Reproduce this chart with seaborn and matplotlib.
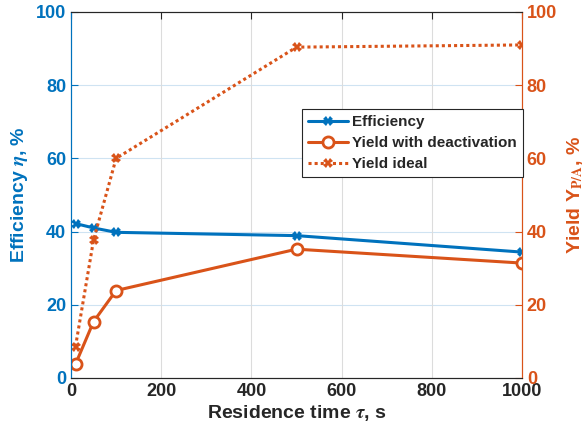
import numpy as np
import pandas as pd
import matplotlib
matplotlib.use("Agg")
import matplotlib.pyplot as plt
import seaborn as sns

# Residence time (s) and measured series (%)
tau = [10, 50, 100, 500, 1000]
efficiency = [42.2, 41.0, 39.8, 38.9, 34.4]
yield_deact = [3.8, 15.4, 23.9, 35.2, 31.4]
yield_ideal = [8.6, 37.7, 60.0, 90.4, 91.0]

x_ticks = [0, 200, 400, 600, 800, 1000]
y_ticks = [0, 20, 40, 60, 80, 100]

BLUE = "#0072BD"
ORANGE = "#D95319"

sns.set_style("white")
plt.rcParams["font.family"] = ["Liberation Sans", "DejaVu Sans"]
plt.rcParams["font.weight"] = "bold"
plt.rcParams["mathtext.fontset"] = "stix"

df = pd.DataFrame({"tau": tau, "eff": efficiency, "yd": yield_deact, "yi": yield_ideal})

fig = plt.figure(figsize=(5.85, 4.32), dpi=100)
ax = fig.add_axes([71 / 585, 1 - 378 / 432, 451 / 585, 366 / 432])
ax2 = ax.twinx()

sns.lineplot(data=df, x="tau", y="eff", ax=ax, color=BLUE, lw=2.2, marker="X",
             markersize=7, markeredgewidth=0, label="Efficiency", legend=False)
sns.lineplot(data=df, x="tau", y="yd", ax=ax2, color=ORANGE, lw=2.2, marker="o",
             markersize=8, markerfacecolor="white", markeredgecolor=ORANGE,
             markeredgewidth=2, label="Yield with deactivation", legend=False)
sns.lineplot(data=df, x="tau", y="yi", ax=ax2, color=ORANGE, lw=2.2, ls=(0, (1, 1)),
             marker="X", markersize=7, markeredgewidth=0, label="Yield ideal", legend=False)

ax.set_xlim(0, 1000)
ax.set_ylim(0, 100)
ax2.set_ylim(0, 100)
ax.set_xticks(x_ticks)
ax.set_yticks(y_ticks)
ax2.set_yticks(y_ticks)

# grid: light blue horizontals, light gray verticals
for t in y_ticks[1:-1]:
    ax.axhline(t, color="#cfe3f2", lw=0.8, zorder=0)
for t in x_ticks[1:-1]:
    ax.axvline(t, color="#dcdcdc", lw=0.8, zorder=0)

ax.tick_params(axis="x", direction="in", length=5, top=True, colors="#262626",
               labelsize=13, width=0.8)
ax.tick_params(axis="y", direction="in", length=5, colors=BLUE, labelsize=13, width=0.8)
ax2.tick_params(axis="y", direction="in", length=5, colors=ORANGE, labelsize=13, width=0.8)
for lab in ax.get_xticklabels() + ax.get_yticklabels() + ax2.get_yticklabels():
    lab.set_fontweight("bold")

for a in (ax, ax2):
    for s in a.spines.values():
        s.set_linewidth(0.8)
    a.spines["top"].set_color("#262626")
    a.spines["bottom"].set_color("#262626")
    a.spines["left"].set_color(BLUE)
    a.spines["right"].set_color(ORANGE)

ax.set_xlabel(r"Residence time $\tau$, s", fontsize=14, fontweight="bold", color="#262626",
              labelpad=2)
ax.set_ylabel(r"Efficiency $\eta$, %", fontsize=14, fontweight="bold", color=BLUE)
ax2.set_ylabel(r"Yield Y$_{\mathbf{P/A}}$, %", fontsize=14, fontweight="bold", color=ORANGE,
               labelpad=6)

h1, l1 = ax.get_legend_handles_labels()
h2, l2 = ax2.get_legend_handles_labels()
leg = ax2.legend(h1 + h2, l1 + l2, loc="upper right", bbox_to_anchor=(1.003, 0.735),
                 borderaxespad=0, prop={"weight": "bold", "size": 11}, frameon=True,
                 fancybox=False, edgecolor="#262626", framealpha=1,
                 handlelength=2.6, handletextpad=0.3, borderpad=0.4, labelspacing=0.45)
leg.get_frame().set_linewidth(0.8)

fig.savefig("out.png", dpi=100)
